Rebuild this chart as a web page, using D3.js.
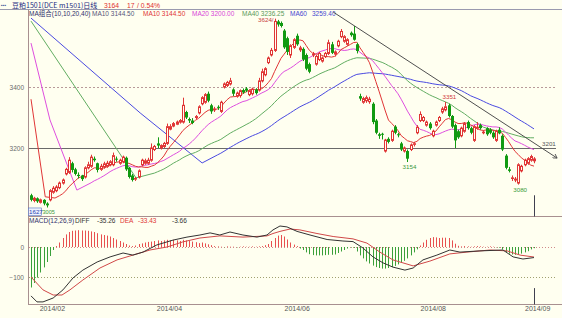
<!DOCTYPE html>
<html><head><meta charset="utf-8">
<script src="https://cdn.jsdelivr.net/npm/d3@7"></script>
<style>
html,body{margin:0;padding:0;background:#fffff0;}
svg{display:block;font-family:"Liberation Sans",Arial,sans-serif;}
</style></head><body>
<svg id="c" width="562" height="318"></svg>
<script>
// ---------------- DATA ----------------
const open=[3045,3028,3035,3022,3030,3018,3030,3055,3060,3070,
3085,3115,3120,3150,3130,3112,3110,3105,3135,3140,
3165,3150,3130,3138,3140,3145,3145,3165,3150,3155,
3168,3135,3110,3098,3105,3145,3150,3150,3160,3195,
3215,3200,3205,3215,3262,3272,3278,3285,3285,3318,
3295,3290,3300,3315,3345,3350,3378,3340,3325,3335,
3320,3400,3405,3410,3392,3370,3372,3390,3395,3375,
3378,3392,3390,3420,3440,3480,3505,3520,3615,3610,
3585,3560,3505,3530,3568,3522,3525,3505,3475,3505,
3475,3490,3485,3500,3510,3540,3508,3535,3565,3550,
3540,3578,3575,3540,3370,3350,3355,3352,3345,3290,
3245,3245,3190,3230,3225,3270,3245,3215,3190,3190,
3195,3212,3250,3290,3290,3275,3280,3240,3275,3290,
3318,3325,3340,3305,3275,3255,3240,3255,3285,3265,
3225,3265,3275,3250,3265,3260,3250,3225,3260,3240,
3175,3130,3100,3095,3085,3125,3145,3150,3160,3158];
const high=[3050,3040,3038,3034,3032,3022,3065,3075,3078,3090,
3100,3135,3170,3155,3135,3120,3112,3140,3155,3178,
3172,3152,3148,3155,3158,3160,3185,3172,3165,3175,
3172,3138,3115,3105,3130,3165,3165,3168,3215,3210,
3235,3212,3220,3280,3278,3285,3290,3295,3365,3322,
3300,3298,3308,3340,3370,3380,3385,3345,3335,3340,
3355,3415,3420,3430,3396,3385,3392,3395,3400,3392,
3398,3396,3430,3460,3465,3500,3528,3624,3620,3615,
3590,3565,3540,3560,3575,3535,3530,3510,3480,3515,
3505,3515,3500,3515,3555,3548,3520,3555,3590,3570,
3560,3582,3600,3545,3378,3368,3372,3368,3350,3295,
3250,3250,3230,3235,3260,3275,3250,3220,3205,3195,
3215,3220,3275,3320,3305,3290,3285,3260,3290,3305,
3335,3351,3345,3308,3280,3260,3270,3285,3290,3270,
3275,3285,3280,3258,3268,3265,3255,3260,3268,3245,
3180,3138,3110,3105,3150,3145,3165,3170,3178,3170];
const low=[3025,3022,3020,3018,3012,3005,3025,3050,3055,3065,
3080,3110,3115,3120,3110,3100,3092,3100,3130,3135,
3155,3120,3125,3132,3135,3140,3140,3155,3145,3150,
3125,3100,3090,3092,3100,3140,3145,3145,3155,3190,
3200,3195,3200,3210,3258,3268,3275,3280,3280,3295,
3282,3278,3295,3310,3340,3345,3350,3312,3318,3325,
3315,3395,3400,3405,3370,3365,3365,3378,3383,3370,
3372,3375,3385,3415,3435,3475,3500,3515,3598,3595,
3525,3505,3495,3525,3535,3515,3485,3455,3445,3498,
3470,3485,3480,3495,3505,3508,3500,3530,3560,3545,
3535,3565,3552,3510,3355,3345,3348,3345,3278,3245,
3230,3228,3185,3215,3220,3245,3235,3190,3185,3154,
3190,3205,3245,3285,3285,3270,3260,3235,3270,3285,
3312,3320,3300,3265,3200,3230,3235,3250,3260,3245,
3220,3260,3260,3245,3240,3245,3230,3220,3245,3190,
3130,3120,3092,3088,3080,3120,3140,3145,3155,3150];
const close=[3030,3035,3025,3030,3018,3012,3060,3068,3072,3085,
3095,3130,3160,3128,3115,3108,3098,3135,3145,3170,
3160,3128,3140,3148,3150,3155,3175,3162,3160,3170,
3130,3105,3095,3100,3125,3160,3158,3160,3200,3205,
3208,3208,3215,3270,3270,3280,3285,3290,3340,3300,
3290,3282,3303,3335,3365,3375,3355,3320,3328,3332,
3350,3410,3415,3420,3378,3380,3388,3382,3388,3388,
3392,3380,3420,3450,3460,3495,3520,3615,3605,3600,
3530,3515,3535,3555,3540,3528,3490,3460,3450,3508,
3500,3510,3495,3510,3545,3512,3515,3550,3582,3565,
3555,3570,3555,3518,3362,3362,3365,3360,3285,3250,
3240,3245,3226,3220,3255,3250,3242,3195,3200,3165,
3210,3214,3268,3310,3300,3285,3265,3255,3285,3300,
3328,3335,3305,3270,3225,3235,3265,3280,3265,3250,
3270,3268,3265,3252,3245,3250,3235,3255,3248,3195,
3135,3125,3102,3098,3145,3140,3160,3165,3172,3164];

// lead-in of moving averages before their window fills: [barIndex, value]
const ma10Lead=[[0,3360],[4.5,3040],[7.6,3036]];
const ma20Lead=[[0,3544],[6,3292],[14.5,3062]];
const ma40Lead=[[0,3616],[33.2,3102]];
const ma60Lead=[[0,3626],[34.5,3315],[54.1,3151]];

// MACD histogram per bar
const macdHist=[-135,-120,-102,-85,-68,-50,-30,-10,3,15,
30,42,50,54,55,56,55,55,54,52,
50,46,42,40,38,35,30,25,20,15,
10,5,3,5,10,12,15,17,18,20,
22,20,22,24,22,24,22,20,24,22,
20,18,16,13,15,12,9,6,3,2,
1,-1,2,1,1,-1,1,2,1,1,
2,1,2,3,6,10,20,30,38,40,
35,25,15,8,3,-5,-10,-18,-24,-27,
-28,-28,-28,-27,-26,-26,-25,-20,-15,-10,
-5,-2,-3,-15,-28,-38,-48,-55,-62,-67,
-70,-72,-72,-70,-67,-63,-58,-52,-46,-38,
-28,-18,-8,5,15,24,30,33,32,30,
31,31,30,22,11,4,2,3,2,1,
2,3,2,1,1,2,1,-1,-2,-8,
-17,-22,-25,-26,-25,-22,-18,-14,-8,-4];
const diffLine=[[0,-163],[1.9,-183],[3.8,-183],[7,-170],[10.1,-143],[13.3,-103],[16.4,-77],[20.9,-50],[25,-33],[29.1,-20],[32.2,-27],[35.4,-17],[39.8,7],[44.9,23],[49.3,33],[53.4,40],[56.6,47],[59.7,40],[62.9,50],[67,40],[71.4,33],[74.6,40],[76.5,57],[78.7,70],[80.9,67],[84.1,52],[88.2,40],[93.6,25],[98.6,20],[101.8,18],[104.9,-3],[108.1,-33],[111.3,-53],[114.4,-67],[118.2,-77],[120.8,-70],[123.9,-43],[128.3,-27],[132.4,-10],[135.6,-17],[141.9,-13],[149.2,-10],[152.4,-33],[155.5,-40],[159,-35.26]];
const deaLine=[[0,-100],[3.8,-143],[7,-160],[9.8,-160],[12.3,-143],[16.4,-110],[21.8,-70],[27.2,-43],[32.2,-27],[37.6,-10],[43,0],[48,17],[53.4,30],[59.7,37],[67,33],[74.6,37],[76.5,45],[78.7,52],[81.9,60],[85,57],[90.4,45],[95.5,35],[101.8,27],[106.2,13],[110.3,-17],[114.4,-43],[120.8,-63],[126.1,-47],[132.4,-23],[137.8,-17],[145.1,-10],[150.5,-13],[154.6,-27],[159,-33.43]];

const trendLine=[[95.5,3646],[166.3,3167]];
const levelLine=3201;
const priceTicks=[3200,3400];
const macdTicks=[0,-100];
const monthLabels=["2014/02","2014/04","2014/06","2014/08","2014/09"];
const monthPos=[6.6,43.6,84,127,160];
const titleText="豆粕1501(DCE m1501)日线";
const quoteText=["3164","17","/ 0.54%"];
const maLegend=["MA组合(10,10,20,40)","MA10 3144.50","MA10 3144.50","MA20 3200.00","MA40 3236.25","MA60","3259.40"];
const macdLegend=["MACD(12,26,9)","DIFF","-35.26","DEA","-33.43","-3.66"];
const marks=[{i:77,v:3624,t:"3624/",kind:"hiL"},{i:131,v:3351,t:"3351",kind:"hi"},{i:119,v:3154,t:"3154",kind:"lo"},{i:154,v:3080,t:"3080",kind:"lo"}];
const cursorLabel="1627", lowLabel="3005", lowIdx=5;

// ---------------- DRAW ----------------
const W=562,H=318;
const svg=d3.select("#c");
svg.append("rect").attr("width",W).attr("height",H).attr("fill","#fffff0");

const x=d3.scaleLinear().domain([0,close.length-1]).range([31,534]);
const y=d3.scaleLinear().domain([3200,3400]).range([148,87]);
const ym=d3.scaleLinear().domain([0,-100]).range([247,277]);
const L=28.5, TOP=9.5, SEP=216.5, BOT=304.5;
const frameC="#a89090";
const RED="#e03636", GRN="#119a11";

const defs=svg.append("defs");
defs.append("clipPath").attr("id","cm").append("rect").attr("x",29).attr("y",10).attr("width",W-29).attr("height",SEP-10);
defs.append("clipPath").attr("id","cd").append("rect").attr("x",29).attr("y",SEP+1).attr("width",W-29).attr("height",BOT-SEP-1);
defs.append("marker").attr("id","arr").attr("viewBox","0 0 6 6").attr("refX",5).attr("refY",3)
  .attr("markerWidth",5).attr("markerHeight",5).attr("orient","auto")
  .append("path").attr("d","M0,0L5,3L0,6").attr("fill","none").attr("stroke","#505050");

// frame
svg.append("line").attr("x1",0).attr("x2",W).attr("y1",TOP).attr("y2",TOP).attr("stroke","#9a9aae");
svg.append("line").attr("x1",L).attr("x2",L).attr("y1",TOP).attr("y2",BOT).attr("stroke",frameC);
svg.append("line").attr("x1",28).attr("x2",W).attr("y1",SEP).attr("y2",SEP).attr("stroke",frameC);
svg.append("line").attr("x1",28).attr("x2",W).attr("y1",BOT).attr("y2",BOT).attr("stroke",frameC);

// title
svg.append("text").attr("x",1).attr("y",7).attr("font-size",5).attr("fill","#5060a0").text("▪▪▪");
svg.append("text").attr("x",12).attr("y",7.5).attr("font-size",7).attr("fill","#1a2a80")
  .attr("font-family","'Noto Sans CJK SC',sans-serif").text(titleText);
[[104,0],[127,1],[137,2]].forEach(([px,k])=>svg.append("text").attr("x",px).attr("y",7.5).attr("font-size",6.8).attr("fill","#e03030").text(quoteText[k]));

// legend
const legPos=[29,92,143,192,242,290,312];
const legCol=["#30306a","#55557a",RED,"#d845d8","#5a9a5a","#4646d0","#4646d0"];
maLegend.forEach((t,k)=>svg.append("text").attr("x",legPos[k]).attr("y",16).attr("font-size",6.5).attr("fill",legCol[k])
  .attr("font-family",k===0?"'Liberation Sans','Noto Sans CJK SC',sans-serif":null).text(t));

// y axes
const yAxG=svg.append("g").attr("transform","translate(28,0)")
  .call(d3.axisLeft(y).tickValues(priceTicks).tickSize(0).tickPadding(4).tickFormat(d3.format("d")));
yAxG.select(".domain").remove();
yAxG.selectAll("text").attr("font-size",6.5).attr("fill","#6a6a6a").attr("font-family","'Liberation Sans',Arial,sans-serif");
const mAxG=svg.append("g").attr("transform","translate(28,0)")
  .call(d3.axisLeft(ym).tickValues(macdTicks).tickSize(0).tickPadding(4).tickFormat(d3.format("d")));
mAxG.select(".domain").remove();
mAxG.selectAll("text").attr("font-size",6.5).attr("fill","#6a6a6a").attr("font-family","'Liberation Sans',Arial,sans-serif");

// x axis
const xAxG=svg.append("g").attr("transform",`translate(0,${BOT})`)
  .call(d3.axisBottom(x).tickValues(monthPos).tickSize(0).tickPadding(2).tickFormat((d,i)=>monthLabels[i]));
xAxG.select(".domain").remove();
xAxG.selectAll("text").attr("font-size",7).attr("fill","#555").attr("font-family","'Liberation Sans',Arial,sans-serif");

// grid lines
const py=v=>Math.round(y(v))+0.5;
svg.append("line").attr("x1",29).attr("x2",556).attr("y1",py(3400)).attr("y2",py(3400))
  .attr("stroke","#b89a9a").attr("stroke-dasharray","2,2");
svg.append("line").attr("x1",29).attr("x2",556).attr("y1",py(levelLine)).attr("y2",py(levelLine))
  .attr("stroke","#6a6a6a");
svg.append("text").attr("x",542).attr("y",py(levelLine)-3).attr("font-size",6.2).attr("fill","#555").text(String(levelLine));
const pm=v=>Math.round(ym(v))+0.5;
svg.append("line").attr("x1",29).attr("x2",556).attr("y1",pm(0)).attr("y2",pm(0)).attr("stroke","#d08a8a").attr("stroke-dasharray","1,2");
svg.append("line").attr("x1",29).attr("x2",556).attr("y1",pm(-100)).attr("y2",pm(-100)).attr("stroke","#a0a070").attr("stroke-dasharray","1,2");

// main panel
const gm=svg.append("g").attr("clip-path","url(#cm)");
function sma(n){const o=[];for(let i=n-1;i<close.length;i++)o.push([i,d3.mean(close.slice(i-n+1,i+1))]);return o;}
const line=d3.line().x(d=>x(d[0])).y(d=>y(d[1]));
[[ma60Lead.concat(sma(60)),"#4a4ae0"],[ma40Lead.concat(sma(40)),"#62ad62"],[ma20Lead.concat(sma(20)),"#de4ede"],[ma10Lead.concat(sma(10)),RED]]
 .forEach(([pts,c])=>gm.append("path").attr("d",line(pts)).attr("fill","none").attr("stroke",c).attr("stroke-width",1));

// candles
const cg=gm.append("g");
close.forEach((c,i)=>{
  const cx=Math.round(x(i))+0.5;
  const o=open[i], yo=y(o), yc=y(c), yh=y(high[i]), yl=y(low[i]);
  const top=Math.min(yo,yc), bot=Math.max(yo,yc);
  if(c>o){
    cg.append("line").attr("x1",cx).attr("x2",cx).attr("y1",yh).attr("y2",top).attr("stroke",RED);
    cg.append("line").attr("x1",cx).attr("x2",cx).attr("y1",bot).attr("y2",yl).attr("stroke",RED);
    cg.append("rect").attr("x",cx-1).attr("y",top).attr("width",2).attr("height",Math.max(bot-top,0.6))
      .attr("fill","#fffff0").attr("stroke",RED).attr("stroke-width",1);
  } else if(c<o){
    cg.append("line").attr("x1",cx).attr("x2",cx).attr("y1",yh).attr("y2",yl).attr("stroke",GRN);
    cg.append("rect").attr("x",cx-1.5).attr("y",top).attr("width",3).attr("height",Math.max(bot-top,1)).attr("fill",GRN);
  } else {
    cg.append("line").attr("x1",cx).attr("x2",cx).attr("y1",yh).attr("y2",yl).attr("stroke",GRN);
    cg.append("line").attr("x1",cx-1.5).attr("x2",cx+1.5).attr("y1",yc).attr("y2",yc).attr("stroke",GRN);
  }
});

// trend line
gm.append("line").attr("x1",x(trendLine[0][0])).attr("y1",y(trendLine[0][1]))
  .attr("x2",x(trendLine[1][0])).attr("y2",y(trendLine[1][1])).attr("stroke","#505050").attr("marker-end","url(#arr)");

// extreme labels
marks.forEach(m=>{
  const t=svg.append("text").attr("font-size",6.2).text(m.t);
  if(m.kind==="hiL") t.attr("x",x(m.i)-1).attr("y",y(m.v)+3).attr("text-anchor","end").attr("fill","#c84040");
  else if(m.kind==="hi") t.attr("x",x(m.i)+4).attr("y",y(m.v)-3).attr("text-anchor","middle").attr("fill","#d03838");
  else t.attr("x",x(m.i)+2).attr("y",y(m.v)+7).attr("text-anchor","middle").attr("fill","#3a9a3a");
});
// cursor label + low label
svg.append("rect").attr("x",28.5).attr("y",y(low[lowIdx])+0.5).attr("width",13).attr("height",7.5).attr("fill","#eef2ff").attr("stroke","#5070c0").attr("stroke-width",0.6);
svg.append("text").attr("x",29).attr("y",y(low[lowIdx])+6.5).attr("font-size",6.2).attr("fill","#2a44b0").text(cursorLabel);
svg.append("text").attr("x",42.5).attr("y",y(low[lowIdx])+6.5).attr("font-size",5.6).attr("fill","#3a9a3a").text(lowLabel);

// cursor vertical line at last bar
const lx=Math.round(x(close.length-1))+0.5;
svg.append("line").attr("x1",lx).attr("x2",lx).attr("y1",y(3045)).attr("y2",SEP).attr("stroke","#404050");
svg.append("line").attr("x1",lx).attr("x2",lx).attr("y1",ym(-137)).attr("y2",BOT).attr("stroke","#404050");

// MACD legend
const mlPos=[29,75,97,120,138,172], mlCol=["#30306a","#333","#333",RED,RED,"#333"];
macdLegend.forEach((t,k)=>svg.append("text").attr("x",mlPos[k]).attr("y",222.5).attr("font-size",6.5).attr("fill",mlCol[k]).text(t));

// MACD panel
const gd=svg.append("g").attr("clip-path","url(#cd)");
macdHist.forEach((h,i)=>{
  const cx=Math.round(x(i))+0.5;
  gd.append("line").attr("x1",cx).attr("x2",cx).attr("y1",ym(0)).attr("y2",ym(h))
    .attr("stroke",h>=0?"#e85050":"#3aa03a").attr("stroke-width",1);
});
const mline=d3.line().x(d=>x(d[0])).y(d=>ym(d[1]));
gd.append("path").attr("d",mline(deaLine)).attr("fill","none").attr("stroke","#d04848");
gd.append("path").attr("d",mline(diffLine)).attr("fill","none").attr("stroke","#333");
</script>
</body></html>
